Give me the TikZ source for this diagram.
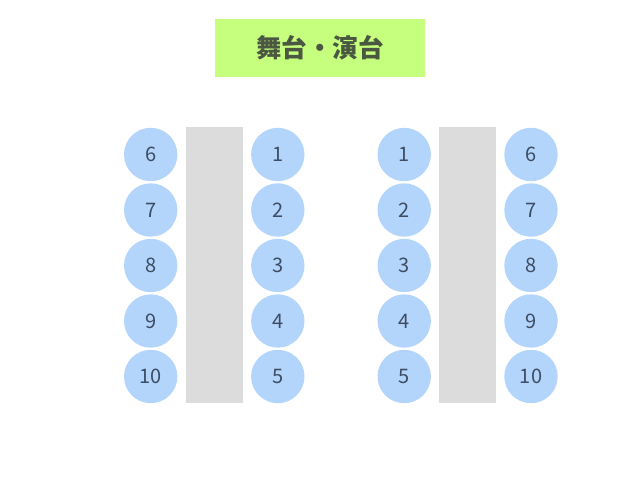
\documentclass[tikz,border=0pt]{standalone}
\usepackage{fontspec}
\setmainfont{Noto Sans CJK JP}
\definecolor{seatblue}{HTML}{B3D4FB}
\definecolor{seattext}{HTML}{3D4D63}
\definecolor{tablegray}{HTML}{DCDCDC}
\definecolor{stagegreen}{HTML}{C6FF7E}
\definecolor{stagetext}{HTML}{4A5842}
\begin{document}
\begin{tikzpicture}[x=1pt,y=-1pt,
    seat/.style={circle,fill=seatblue,minimum size=53.4pt,inner sep=0pt,
      text=seattext,font=\fontsize{20}{20}\selectfont},
    tablebox/.style={rectangle,fill=tablegray,minimum width=57pt,minimum height=276pt,inner sep=0pt},
    stagebox/.style={rectangle,fill=stagegreen,minimum width=210pt,minimum height=58pt,inner sep=0pt,
      text=stagetext,font=\fontsize{25.5}{25.5}\selectfont\bfseries}]
  \useasboundingbox (0,0) rectangle (640,480);
  \node[stagebox] (stage) at (320,48) {舞台・演台};
  % left table
  \node[tablebox] (tableL) at (214.5,265.3) {};
  \path
    (150.7,154.5) node[seat] (L6){6}
    (150.7,210.0) node[seat] (L7){7}
    (150.7,265.5) node[seat] (L8){8}
    (150.7,321.0) node[seat] (L9){9}
    (150.7,376.5) node[seat] (L10){10}
    (277.8,154.5) node[seat] (L1){1}
    (277.8,210.0) node[seat] (L2){2}
    (277.8,265.5) node[seat] (L3){3}
    (277.8,321.0) node[seat] (L4){4}
    (277.8,376.5) node[seat] (L5){5};
  % right table
  \node[tablebox] (tableR) at (467.5,265.3) {};
  \path
    (404.2,154.5) node[seat] (R1){1}
    (404.2,210.0) node[seat] (R2){2}
    (404.2,265.5) node[seat] (R3){3}
    (404.2,321.0) node[seat] (R4){4}
    (404.2,376.5) node[seat] (R5){5}
    (531.0,154.5) node[seat] (R6){6}
    (531.0,210.0) node[seat] (R7){7}
    (531.0,265.5) node[seat] (R8){8}
    (531.0,321.0) node[seat] (R9){9}
    (531.0,376.5) node[seat] (R10){10};
\end{tikzpicture}
\end{document}
